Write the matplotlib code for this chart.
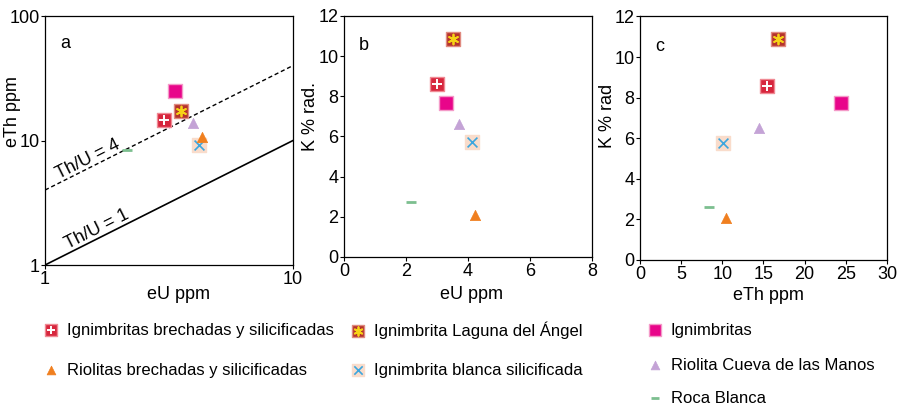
import matplotlib
matplotlib.use("Agg")
import matplotlib.pyplot as plt
from matplotlib.legend_handler import HandlerTuple
import numpy as np

plt.rcParams['font.family'] = ['Liberation Sans', 'DejaVu Sans']
plt.rcParams['font.size'] = 12

# groups, in legend order
groups = ['Ignimbritas brechadas y silicificadas', 'Ignimbrita Laguna del Ángel',
          'Riolitas brechadas y silicificadas', 'Ignimbrita blanca silicificada',
          'Ignimbritas', 'Riolita Cueva de las Manos', 'Roca Blanca']
# values (the panels do not agree exactly)
eU_a = [3.02, 3.53, 4.28, 4.18, 3.34, 3.94, 2.15]
eTh_a = [14.6, 17.3, 10.6, 9.2, 25.1, 13.9, 8.4]
eU_b = [3.01, 3.51, 4.23, 4.14, 3.28, 3.72, 2.16]
K_b = [8.6, 10.84, 2.09, 5.74, 7.68, 6.62, 2.75]
eTh_c = [15.4, 16.8, 10.4, 10.1, 24.4, 14.4, 8.4]
K_c = [8.58, 10.88, 2.06, 5.79, 7.76, 6.49, 2.63]

ratio_x = np.array([1, 10])

# marker layers per group: (marker, size, face, edge, lw)
styles = [
    [('s', 92, '#d7263d', '#f08a94', 1.0), ('+', 45, 'white', 'white', 1.4)],
    [('s', 92, '#b5332b', '#e08a80', 1.0), ((6, 2, 0), 50, '#f6d316', '#f6d316', 1.3)],
    [('^', 55, '#f07f1f', '#f07f1f', 0.5)],
    [('s', 92, '#f9dccb', '#f9dccb', 1.0), ('x', 50, '#3da6de', '#3da6de', 1.2)],
    [('s', 100, '#e8058a', '#f49ac8', 1.0)],
    [('^', 55, '#c4a3d6', '#c4a3d6', 0.5)],
    [('_', 45, '#7cbf8f', '#7cbf8f', 2.0)],
]
# drawing order (orange triangle on top of the white-ignimbrite square)
order = [0, 1, 3, 2, 4, 5, 6]


def draw(ax, xs, ys):
    handles = [None] * len(xs)
    for i in order:
        layer = []
        for (m, s, fc, ec, lw) in styles[i]:
            if m in ('+', 'x', '_') or isinstance(m, tuple):
                h = ax.scatter([xs[i]], [ys[i]], marker=m, s=s, c=fc, linewidths=lw, zorder=3)
            else:
                h = ax.scatter([xs[i]], [ys[i]], marker=m, s=s, c=fc, edgecolors=ec,
                               linewidths=lw, zorder=3)
            layer.append(h)
        handles[i] = tuple(layer)
    return handles


def style_axes(ax):
    for sp in ax.spines.values():
        sp.set_linewidth(0.9)
    ax.tick_params(direction='out', length=3, width=0.8, labelsize=13, pad=1)


fig = plt.figure(figsize=(9.17, 4.11), dpi=100)

# panel a
axa = fig.add_axes([0.0491, 0.3552, 0.2704, 0.6058])
axa.set_xscale('log')
axa.set_yscale('log')
axa.set_xlim(1, 10)
axa.set_ylim(1, 100)
axa.plot(ratio_x, 4 * ratio_x, 'k--', lw=1.0, dashes=(3, 2))
axa.plot(ratio_x, ratio_x, 'k-', lw=1.2)
draw(axa, eU_a, eTh_a)
axa.set_xticks([1, 10])
axa.set_yticks([1, 10, 100])
axa.set_xticklabels(['1', '10'])
axa.set_yticklabels(['1', '10', '100'])
axa.minorticks_off()
axa.text(1.49, 7.1, 'Th/U = 4', rotation=26.7, ha='center', va='center', fontsize=13,
         rotation_mode='anchor')
axa.text(1.62, 1.95, 'Th/U = 1', rotation=26.7, ha='center', va='center', fontsize=13,
         rotation_mode='anchor')
axa.text(0.06, 0.87, 'a', transform=axa.transAxes, fontsize=13)
axa.set_xlabel('eU ppm', fontsize=13)
axa.set_ylabel('eTh ppm', fontsize=13)
axa.xaxis.set_label_coords(0.54, -0.084)
axa.yaxis.set_label_coords(-0.098, 0.618)
style_axes(axa)

# panel b
axb = fig.add_axes([0.3751, 0.3747, 0.2704, 0.5864])
axb.set_xlim(0, 8)
axb.set_ylim(0, 12)
hb = draw(axb, eU_b, K_b)
axb.set_xticks(range(0, 9, 2))
axb.set_yticks(range(0, 13, 2))
axb.text(0.06, 0.86, 'b', transform=axb.transAxes, fontsize=13)
axb.set_xlabel('eU ppm', fontsize=13)
axb.set_ylabel('K % rad.', fontsize=13)
axb.xaxis.set_label_coords(0.516, -0.12)
axb.yaxis.set_label_coords(-0.1, 0.585)
style_axes(axb)

# panel c
axc = fig.add_axes([0.6979, 0.3674, 0.2694, 0.5925])
axc.set_xlim(0, 30)
axc.set_ylim(0, 12)
draw(axc, eTh_c, K_c)
axc.set_xticks(range(0, 31, 5))
axc.set_yticks(range(0, 13, 2))
axc.text(0.06, 0.86, 'c', transform=axc.transAxes, fontsize=13)
axc.set_xlabel('eTh ppm', fontsize=13)
axc.set_ylabel('K % rad', fontsize=13)
axc.xaxis.set_label_coords(0.522, -0.11)
axc.yaxis.set_label_coords(-0.097, 0.591)
style_axes(axc)

# legend entries, placed one by one (figure pixel anchors)
legend_pos = [(42, 330), (349, 330), (42, 370), (349, 370), (646, 330), (646, 365), (646, 398)]
for h, lab, (px, py) in zip(hb, groups, legend_pos):
    fig.legend([h], [lab], loc='center left', bbox_to_anchor=(px / 917, 1 - py / 411),
               frameon=False, fontsize=12, markerscale=0.85, handlelength=1.05,
               handletextpad=0.45, borderpad=0, borderaxespad=0,
               handler_map={tuple: HandlerTuple(ndivide=1)})

fig.savefig('out.png', dpi=100)
